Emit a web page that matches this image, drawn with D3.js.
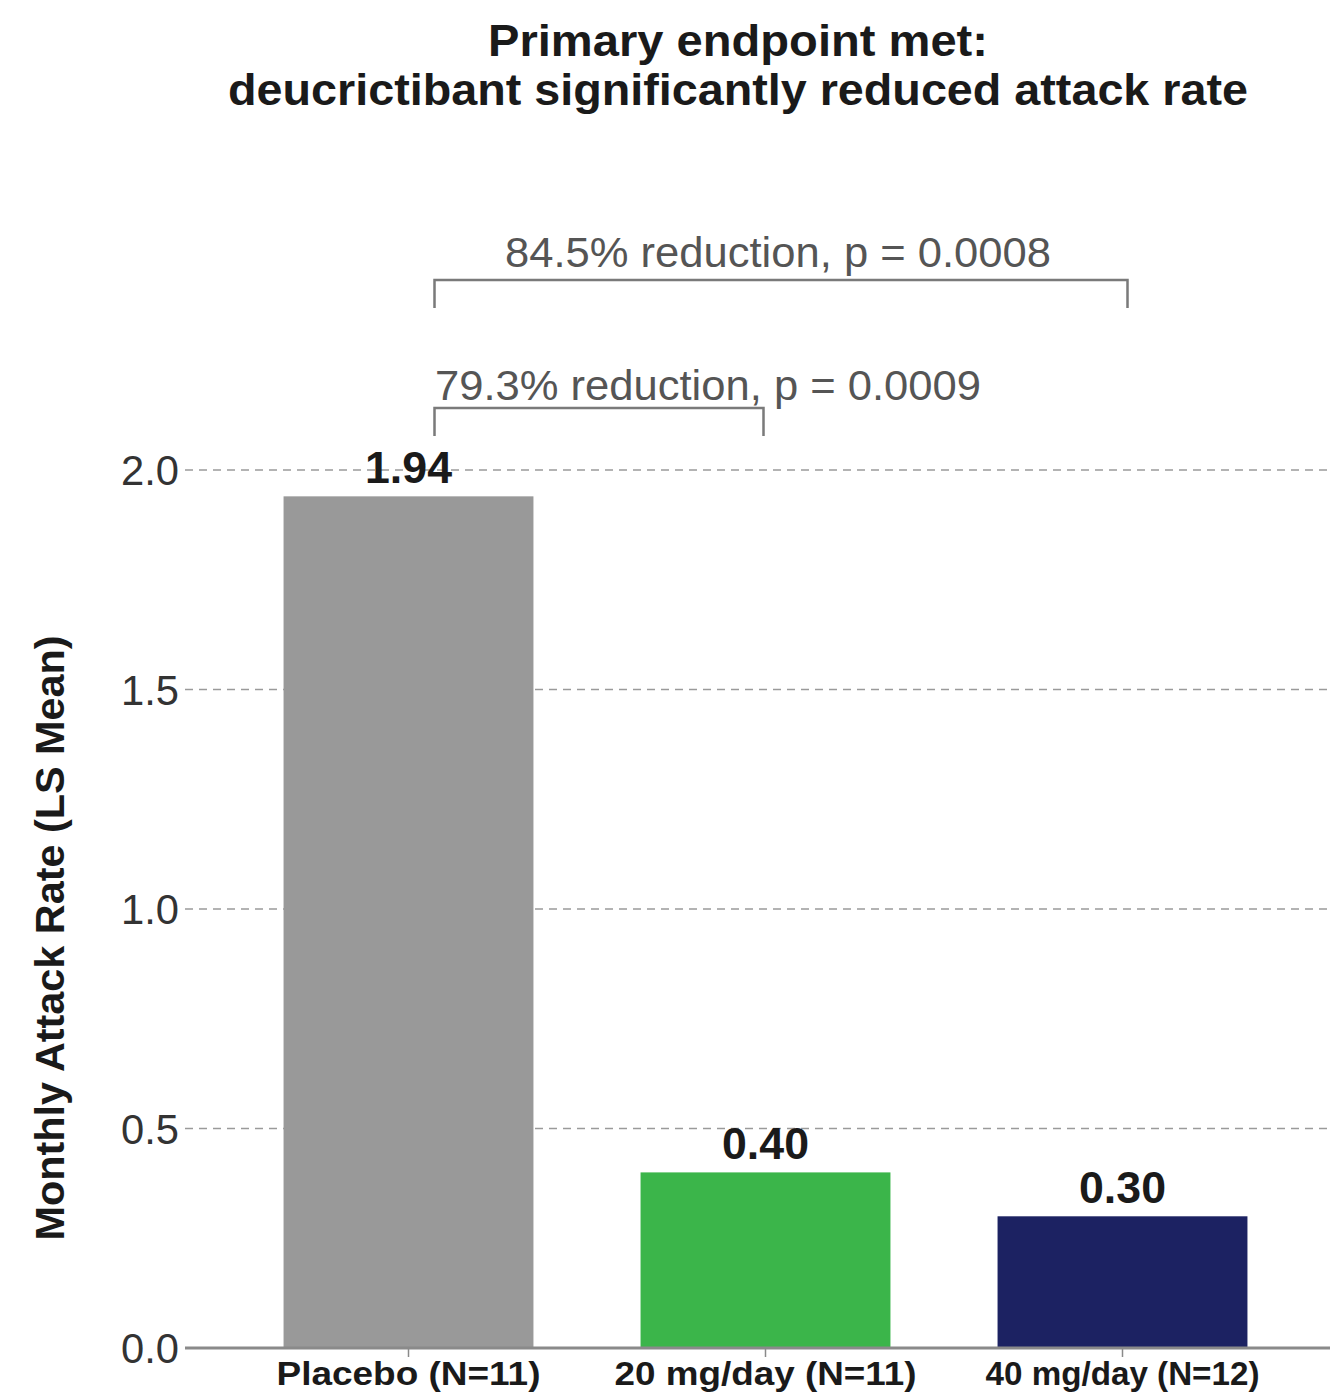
<!DOCTYPE html>
<html><head><meta charset="utf-8">
<script src="https://cdn.jsdelivr.net/npm/d3@7"></script>
<style>body{margin:0;background:#fff;} svg{display:block;}</style>
</head><body>
<script>
const categories = ["Placebo (N=11)", "20 mg/day (N=11)", "40 mg/day (N=12)"];
const values = [1.94, 0.40, 0.30];
const valueLabels = ["1.94", "0.40", "0.30"];
const barColors = ["#999999", "#3bb54a", "#1c2262"];
const yTicks = [0.0, 0.5, 1.0, 1.5, 2.0];
const titleLines = ["Primary endpoint met:", "deucrictibant significantly reduced attack rate"];
const yLabel = "Monthly Attack Rate (LS Mean)";
const comparisons = [
  {from: 0, to: 2, text: "84.5% reduction, p = 0.0008", level: 2},
  {from: 0, to: 1, text: "79.3% reduction, p = 0.0009", level: 1}
];

const W = 1330, H = 1396;
const svg = d3.select("body").append("svg").attr("width", W).attr("height", H);
const font = "'Liberation Sans', Arial, sans-serif";

const y = d3.scaleLinear().domain([0, 2]).range([1348, 470]);
const x = d3.scaleBand().domain(categories).range([230, 1301]).paddingInner(0.3).paddingOuter(0.15);

// title
const titleLen = [500, 1020];
svg.append("g").selectAll("text").data(titleLines).join("text")
  .attr("x", 738).attr("y", (d, i) => 56 + i * 49)
  .attr("text-anchor", "middle").attr("font-family", font).attr("font-weight", "bold")
  .attr("font-size", 44).attr("fill", "#1a1a1a")
  .attr("textLength", (d, i) => titleLen[i]).attr("lengthAdjust", "spacingAndGlyphs")
  .text(d => d);

// gridlines
svg.append("g").selectAll("line").data(yTicks.filter(t => t > 0)).join("line")
  .attr("x1", 185).attr("x2", W).attr("y1", d => y(d)).attr("y2", d => y(d))
  .attr("stroke", "#9a9a9a").attr("stroke-width", 1.5).attr("stroke-dasharray", "8,6");

// y tick labels
svg.append("g").selectAll("text").data(yTicks).join("text")
  .attr("x", 179).attr("y", d => y(d) + 15)
  .attr("text-anchor", "end").attr("font-family", font).attr("font-size", 42)
  .attr("fill", "#333").attr("textLength", 58).attr("lengthAdjust", "spacingAndGlyphs")
  .text(d => d.toFixed(1));

// bars
svg.append("g").selectAll("rect").data(values).join("rect")
  .attr("x", (d, i) => x(categories[i])).attr("width", x.bandwidth())
  .attr("y", d => y(d)).attr("height", d => y(0) - y(d))
  .attr("fill", (d, i) => barColors[i]);

// baseline axis
svg.append("line").attr("x1", 185).attr("x2", W).attr("y1", y(0)).attr("y2", y(0))
  .attr("stroke", "#8a8a8a").attr("stroke-width", 3);
// x ticks
svg.append("g").selectAll("line").data(categories).join("line")
  .attr("x1", d => x(d) + x.bandwidth() / 2).attr("x2", d => x(d) + x.bandwidth() / 2)
  .attr("y1", y(0)).attr("y2", y(0) + 9).attr("stroke", "#8a8a8a").attr("stroke-width", 1.5);

// value labels
svg.append("g").selectAll("text").data(values).join("text")
  .attr("x", (d, i) => x(categories[i]) + x.bandwidth() / 2)
  .attr("y", d => y(d) - 13)
  .attr("text-anchor", "middle").attr("font-family", font).attr("font-weight", "bold")
  .attr("font-size", 44).attr("fill", "#1a1a1a")
  .attr("textLength", 87).attr("lengthAdjust", "spacingAndGlyphs")
  .text((d, i) => valueLabels[i]);

// x labels
svg.append("g").selectAll("text").data(categories).join("text")
  .attr("x", d => x(d) + x.bandwidth() / 2).attr("y", 1385)
  .attr("text-anchor", "middle").attr("font-family", font).attr("font-weight", "bold")
  .attr("font-size", 34).attr("fill", "#1a1a1a")
  .attr("textLength", (d, i) => [264, 302, 274][i]).attr("lengthAdjust", "spacingAndGlyphs")
  .text(d => d);

// y-axis title
svg.append("text").attr("transform", "translate(64,938) rotate(-90)")
  .attr("text-anchor", "middle").attr("font-family", font).attr("font-weight", "bold")
  .attr("font-size", 40).attr("fill", "#1a1a1a")
  .attr("textLength", 605).attr("lengthAdjust", "spacingAndGlyphs")
  .text(yLabel);

// brackets
const cx = i => x(categories[i]) + x.bandwidth() / 2;
const bracketY = {2: 280, 1: 408};
comparisons.forEach(c => {
  const by = bracketY[c.level];
  const x1 = cx(c.from) + 26, x2 = cx(c.to) + (c.level === 2 ? 5 : -2);
  svg.append("path")
    .attr("d", `M${x1},${by + 28}V${by}H${x2}V${by + 28}`)
    .attr("fill", "none").attr("stroke", "#7a7a7a").attr("stroke-width", 2.5);
  const t = svg.append("text").attr("font-family", font).attr("font-size", 42)
    .attr("fill", "#555").attr("textLength", 546).attr("lengthAdjust", "spacingAndGlyphs")
    .text(c.text);
  if (c.level === 2) t.attr("x", 505).attr("y", by - 13).attr("text-anchor", "start");
  else t.attr("x", 435).attr("y", by - 8).attr("text-anchor", "start");
});
</script>
</body></html>
